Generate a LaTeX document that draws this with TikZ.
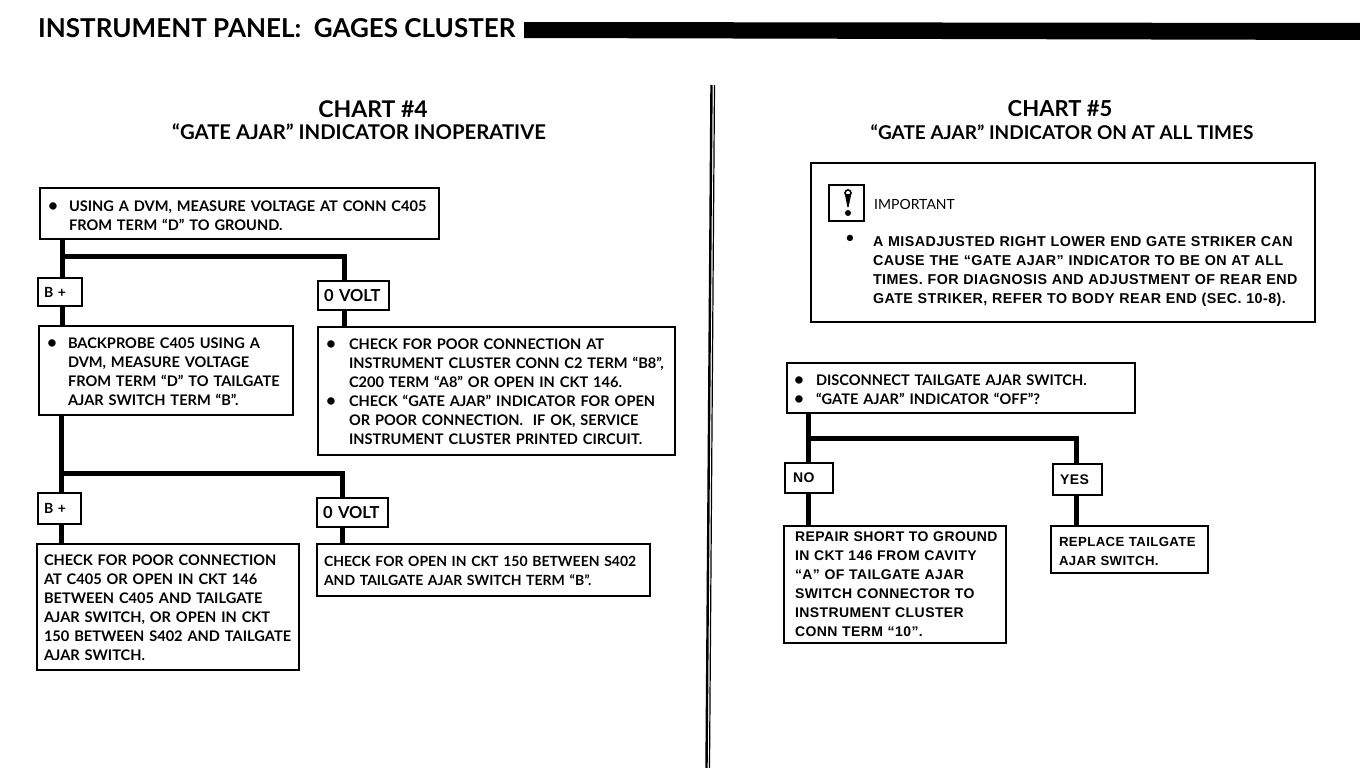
\documentclass[tikz,border=0pt]{standalone}
\usepackage{fontspec}
\setmainfont{Lato}[BoldFont={Lato Bold}]
\newfontfamily\lib{Liberation Sans}[LetterSpace=3]
\usetikzlibrary{calc}
\newcommand\bl[2]{\mbox{\makebox[#1pt][l]{\fontsize{17}{19}\selectfont•}#2}}
\newcommand\cn[2]{\mbox{\hspace*{#1pt}#2}}
\newcommand\dn[1]{\rule{0pt}{#1pt}}
\newcommand\panel[8][]{%
  \pgfmathsetlengthmacro\pw{#5-#3}%
  \pgfmathsetlengthmacro\ph{#6-#4}%
  \pgfmathsetlengthmacro\tw{#5-#3-2*#7}%
  \node[panelbox,#1,minimum width=\pw,minimum height=\ph,text width=\tw] (#2) at ({(#3+#5)/2},{(#4+#6)/2}) {#8};}
\tikzset{
  panelbox/.style={draw,line width=2pt,fill=white,inner sep=0pt,align=left,font=\fontsize{14.6}{19}\selectfont\bfseries},
  tagfont/.style={font=\lib\fontsize{14}{19}\selectfont\bfseries},
  plusfont/.style={font=\fontsize{14}{19}\selectfont\bfseries},
  voltfont/.style={font=\fontsize{16.5}{19}\selectfont\bfseries},
  flow/.style={line width=5pt},
  headline/.style={inner sep=0pt,font=\bfseries},
}
\begin{document}
\begin{tikzpicture}[x=1pt,y=-1pt]
\useasboundingbox (0,0) rectangle (1360,768);
% header
\node[headline,anchor=west,font=\fontsize{26}{30}\selectfont\bfseries] (hd) at (38,28) {INSTRUMENT PANEL:\ \ GAGES CLUSTER};
\coordinate (barA) at (524,22);
\coordinate (barB) at (1360,40);
\fill (barA) -- (1360,23) -- (barB) -- (524,38) -- cycle;
% divider
\draw[line width=2.4pt] (711.5,85) -- (706.5,768);
\draw[line width=1.2pt] (714.5,85) -- (709.5,768);
% titles
\node[headline,font=\fontsize{23}{28}\selectfont\bfseries] (c4) at (373,109) {CHART \#4};
\node[headline,font=\fontsize{20.3}{22}\selectfont\bfseries] (s4) at (359,132) {“GATE AJAR” INDICATOR INOPERATIVE};
\node[headline,font=\fontsize{22}{28}\selectfont\bfseries] (c5) at (1060,109) {CHART \#5};
\node[headline,font=\fontsize{19}{22}\selectfont\bfseries] (s5) at (1062,132) {“GATE AJAR” INDICATOR ON AT ALL TIMES};
% chart 4
\panel{b1}{40}{188}{439}{239}{8}{\dn{15}\bl{21}{USING A DVM, MEASURE VOLTAGE AT CONN C405}\\\cn{21}{FROM TERM “D” TO GROUND.}}
\panel[plusfont]{p1}{38}{278}{82}{306}{6}{\mbox{B +}}
\panel[voltfont]{z1}{318}{281}{389}{310}{6}{\mbox{0 VOLT}}
\panel{b2}{39}{326}{293}{415}{8}{\dn{13}\bl{21}{BACKPROBE C405 USING A}\\\cn{21}{DVM, MEASURE VOLTAGE}\\\cn{21}{FROM TERM “D” TO TAILGATE}\\\cn{21}{AJAR SWITCH TERM “B”.}}
\panel{b3}{318}{327}{675}{455}{8}{\dn{13}\bl{23}{CHECK FOR POOR CONNECTION AT}\\\cn{23}{INSTRUMENT CLUSTER CONN C2 TERM “B8”,}\\\cn{23}{C200 TERM “A8” OR OPEN IN CKT 146.}\\\bl{23}{CHECK “GATE AJAR” INDICATOR FOR OPEN}\\\cn{23}{OR POOR CONNECTION.\ \ IF OK, SERVICE}\\\cn{23}{INSTRUMENT CLUSTER PRINTED CIRCUIT.}}
\panel[plusfont]{p2}{38}{493}{81}{524}{6}{\mbox{B +}}
\panel[voltfont]{z2}{317}{498}{388}{527}{6}{\mbox{0 VOLT}}
\panel{b4}{37}{544}{299}{670}{7}{\dn{13}\mbox{CHECK FOR POOR CONNECTION}\\\mbox{AT C405 OR OPEN IN CKT 146}\\\mbox{BETWEEN C405 AND TAILGATE}\\\mbox{AJAR SWITCH, OR OPEN IN CKT}\\\mbox{150 BETWEEN S402 AND TAILGATE}\\\mbox{AJAR SWITCH.}}
\panel[font=\fontsize{14}{19}\selectfont\bfseries]{b5}{317}{544}{650}{596}{7}{\dn{13}\mbox{CHECK FOR OPEN IN CKT 150 BETWEEN S402}\\\mbox{AND TAILGATE AJAR SWITCH TERM “B”.}}
\coordinate (j1) at (62,256);
\coordinate (k1) at (344,256);
\coordinate (j2) at (61,473);
\coordinate (k2) at (342,473);
\draw[flow] (b1.south -| j1) -- (p1.north -| j1);
\draw[flow] (p1.south -| j1) -- (b2.north -| j1);
\draw[flow] (j1) -- (k1) -- (z1.north -| k1);
\draw[flow] (z1.south -| k1) -- (b3.north -| k1);
\draw[flow] (b2.south -| j2) -- (p2.north -| j2);
\draw[flow] (p2.south -| j2) -- (b4.north -| j2);
\draw[flow] (j2) -- (k2) -- (z2.north -| k2);
\draw[flow] (z2.south -| k2) -- (b5.north -| k2);
% chart 5
\panel[font=\lib\fontsize{14.3}{19}\selectfont\bfseries]{imp}{811}{163}{1315}{322}{62}{\dn{67}\mbox{A MISADJUSTED RIGHT LOWER END GATE STRIKER CAN}\\\mbox{CAUSE THE “GATE AJAR” INDICATOR TO BE ON AT ALL}\\\mbox{TIMES. FOR DIAGNOSIS AND ADJUSTMENT OF REAR END}\\\mbox{GATE STRIKER, REFER TO BODY REAR END (SEC. 10-8).}}
\node[draw,line width=2.4pt,minimum width=35pt,minimum height=36pt,inner sep=0pt] (icon) at (846.5,203) {};
\draw[line width=1.6pt] (848,193) circle (3pt);
\fill (844.8,194) -- (851.2,194) -- (848.6,207) -- (847.4,207) -- cycle;
\fill[white] (848,192.8) circle (1.6pt);
\fill (848,213) circle (3pt);
\node[anchor=west,inner sep=0pt,font=\fontsize{14}{17}\selectfont] (impt) at (874,204) {IMPORTANT};
\node[inner sep=0pt,font=\fontsize{17}{17}\selectfont] (impb) at (850,239) {•};
\panel{b6}{787}{363}{1135}{413}{7}{\dn{15}\bl{22}{DISCONNECT TAILGATE AJAR SWITCH.}\\\bl{22}{“GATE AJAR” INDICATOR “OFF”?}}
\panel[tagfont]{no}{785}{463}{833}{493}{8}{\mbox{NO}}
\panel[tagfont]{yes}{1053}{464}{1102}{495}{7}{\mbox{YES}}
\panel[font=\lib\fontsize{14}{19}\selectfont\bfseries]{b7}{784}{526}{1006}{643}{11}{\mbox{REPAIR SHORT TO GROUND}\\\mbox{IN CKT 146 FROM CAVITY}\\\mbox{“A” OF TAILGATE AJAR}\\\mbox{SWITCH CONNECTOR TO}\\\mbox{INSTRUMENT CLUSTER}\\\mbox{CONN TERM “10”.}}
\panel[font=\lib\fontsize{13.2}{19}\selectfont\bfseries]{b8}{1051}{526}{1208}{573}{8}{\dn{14}\mbox{REPLACE TAILGATE}\\\mbox{AJAR SWITCH.}}
\coordinate (j3) at (808,438);
\coordinate (k3) at (1076,438);
\draw[flow] (b6.south -| j3) -- (no.north -| j3);
\draw[flow] (no.south -| j3) -- (b7.north -| j3);
\draw[flow] (j3) -- (k3) -- (yes.north -| k3);
\draw[flow] (yes.south -| k3) -- (b8.north -| k3);
\end{tikzpicture}
\end{document}
